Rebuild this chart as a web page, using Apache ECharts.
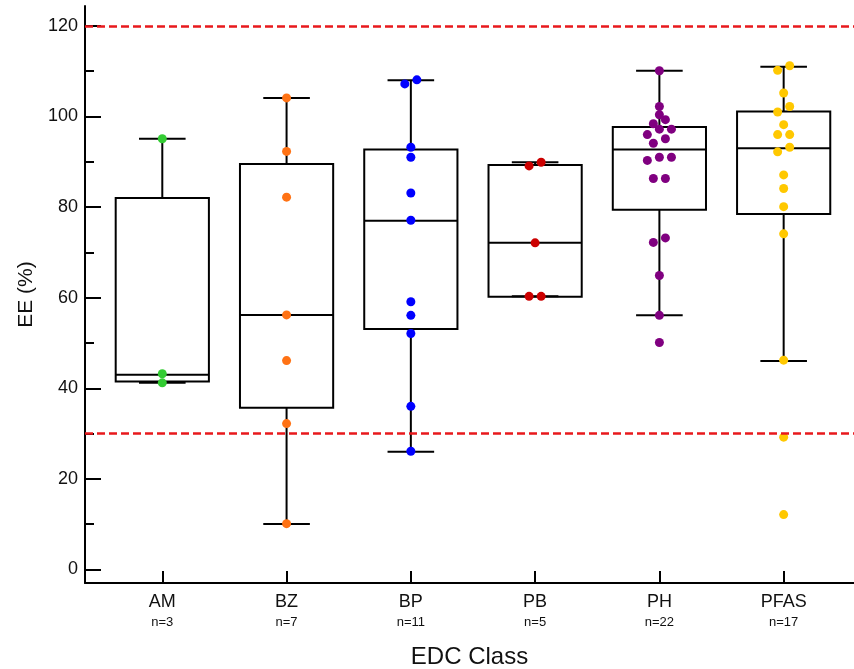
<!DOCTYPE html>
<html>
<head>
<meta charset="utf-8">
<script src="https://cdn.jsdelivr.net/npm/echarts@6/dist/echarts.min.js"></script>
<style>
html,body{margin:0;padding:0;background:#fff;}
#chart{width:854px;height:669px;}
</style>
</head>
<body>
<div id="chart"></div>
<script>
// ---------- data ----------
const categories = ['AM', 'BZ', 'BP', 'PB', 'PH', 'PFAS'];
const counts = [3, 7, 11, 5, 22, 17];

const amValues = [95.1, 43.2, 41.2];
const bzValues = [104.1, 92.3, 82.2, 56.2, 46.1, 32.2, 10.1];
const bpValues = [108.1, 107.2, 93.2, 91.0, 83.1, 77.1, 59.1, 56.1, 52.1, 36.0, 26.1];
const pbValues = [89.9, 89.1, 72.1, 60.3, 60.3];
const phValues = [110.1, 102.2, 100.4, 99.3, 98.4, 97.2, 97.2, 96.0, 95.1, 94.1,
                  91.0, 91.0, 90.3, 86.3, 86.3, 73.2, 72.2, 64.9, 56.1, 50.1];
const pfasValues = [111.2, 110.2, 105.2, 102.2, 101.0, 98.2, 96.0, 96.0, 93.2, 92.2,
                    87.1, 84.1, 80.1, 74.1, 46.2, 29.2, 12.1];

const whiskerLow  = [41.2, 10.0, 26.0, 60.3, 56.1, 46.0];
const boxQ1       = [41.5, 35.7, 53.1, 60.2, 79.4, 78.5];
const boxMedian   = [43.0, 56.2, 77.0, 72.1, 92.7, 93.0];
const boxQ3       = [82.0, 89.5, 92.7, 89.3, 97.7, 101.1];
const whiskerHigh = [95.1, 104.1, 108.0, 89.9, 110.1, 111.0];

const refLines = [120, 30];
const yMajorTicks = [0, 20, 40, 60, 80, 100, 120];
const yMinorTicks = [10, 30, 50, 70, 90, 110];

// ---------- styling / layout params ----------
const groupValues = [amValues, bzValues, bpValues, pbValues, phValues, pfasValues];
const groupColors = ['#33cc33', '#ff7214', '#0000ff', '#cc0000', '#800080', '#ffc800'];
const BOX_WIDTH = 0.75;
const CAP_WIDTH = 0.375;
const BIN_WIDTH = 1.5;   // values closer than this share a row
const SLOT = 0.097;      // horizontal spacing within a row
const FONT = '"Liberation Sans", Arial, sans-serif';

function swarmOffsets(values) {
  const idx = values.map((v, i) => i).sort((a, b) => values[a] - values[b]);
  const off = new Array(values.length).fill(0);
  let k = 0;
  while (k < idx.length) {
    const start = values[idx[k]];
    let j = k;
    while (j < idx.length && values[idx[j]] - start < BIN_WIDTH) j++;
    const n = j - k;
    for (let m = 0; m < n; m++) off[idx[k + m]] = (m - (n - 1) / 2) * SLOT;
    k = j;
  }
  return off;
}

const catPositions = categories.map((c, i) => i + 1);
const boxData = categories.map((c, i) => [catPositions[i], whiskerLow[i], boxQ1[i], boxMedian[i], boxQ3[i], whiskerHigh[i]]);

const lineStyle = { stroke: '#000', lineWidth: 2, fill: null };

const series = [];
series.push({
  type: 'scatter',
  data: [],
  z: 1,
  silent: true,
  markLine: {
    silent: true,
    symbol: 'none',
    label: { show: false },
    lineStyle: { color: '#e8191c', type: [8, 4], width: 2.5 },
    data: refLines.map(v => ({ yAxis: v }))
  }
});
series.push({
  type: 'custom',
  z: 2,
  silent: true,
  encode: { x: 0, y: [1, 2, 3, 4, 5] },
  data: boxData,
  renderItem: function (params, api) {
    const x = api.value(0);
    const wl = api.value(1), q1 = api.value(2), md = api.value(3), q3 = api.value(4), wh = api.value(5);
    const hb = BOX_WIDTH / 2, hc = CAP_WIDTH / 2;
    const c = (a, b) => api.coord([a, b]);
    const seg = (p1, p2) => ({ type: 'line', shape: { x1: p1[0], y1: p1[1], x2: p2[0], y2: p2[1] }, style: lineStyle });
    const tl = c(x - hb, q3), br = c(x + hb, q1);
    return {
      type: 'group',
      children: [
        seg(c(x, q3), c(x, wh)),
        seg(c(x, q1), c(x, wl)),
        seg(c(x - hc, wh), c(x + hc, wh)),
        seg(c(x - hc, wl), c(x + hc, wl)),
        { type: 'rect', shape: { x: tl[0], y: tl[1], width: br[0] - tl[0], height: br[1] - tl[1] }, style: lineStyle },
        seg(c(x - hb, md), c(x + hb, md))
      ]
    };
  }
});
groupValues.forEach((vals, i) => {
  const offs = swarmOffsets(vals);
  series.push({
    type: 'scatter',
    z: 3,
    symbolSize: 9,
    itemStyle: { color: groupColors[i], opacity: 1 },
    data: vals.map((v, k) => [catPositions[i] + offs[k], v])
  });
});

const chart = echarts.init(document.getElementById('chart'), null, { renderer: 'canvas' });
chart.setOption({
  animation: false,
  backgroundColor: '#fff',
  grid: { left: 85, right: 0, top: 6, bottom: 86, containLabel: false, outerBoundsMode: 'none' },
  xAxis: {
    type: 'value',
    min: 0.378,
    max: 6.566,
    name: 'EDC Class',
    nameLocation: 'middle',
    nameGap: 62,
    nameTextStyle: { fontFamily: FONT, fontSize: 24, color: '#111' },
    axisLine: { show: true, onZero: false, lineStyle: { color: '#000', width: 2 } },
    axisTick: { show: true, inside: true, length: 12, lineStyle: { color: '#000', width: 2 }, customValues: catPositions },
    axisLabel: {
      customValues: catPositions,
      margin: 8,
      formatter: function (v) {
        const i = Math.round(v) - 1;
        return '{c|' + categories[i] + '}\n{n|n=' + counts[i] + '}';
      },
      rich: {
        c: { fontFamily: FONT, fontSize: 18, lineHeight: 22, color: '#111' },
        n: { fontFamily: FONT, fontSize: 13, lineHeight: 18, color: '#111' }
      }
    },
    splitLine: { show: false }
  },
  yAxis: [{
    type: 'value',
    min: -3,
    max: 124.4,
    name: 'EE (%)',
    nameLocation: 'middle',
    nameRotate: 90,
    nameGap: 48,
    nameTextStyle: { fontFamily: FONT, fontSize: 21, color: '#111' },
    axisLine: { show: true, onZero: false, lineStyle: { color: '#000', width: 2 } },
    axisTick: { show: true, inside: true, length: 16, lineStyle: { color: '#000', width: 2 }, customValues: yMajorTicks },
    axisLabel: { customValues: yMajorTicks, margin: 7, fontFamily: FONT, fontSize: 18, color: '#111' },
    splitLine: { show: false }
  }, {
    type: 'value',
    min: -3,
    max: 124.4,
    position: 'left',
    axisLine: { show: false },
    axisTick: { show: true, inside: true, length: 9, lineStyle: { color: '#000', width: 2 }, customValues: yMinorTicks },
    axisLabel: { show: false },
    splitLine: { show: false }
  }],
  series: series
});
</script>
</body>
</html>
